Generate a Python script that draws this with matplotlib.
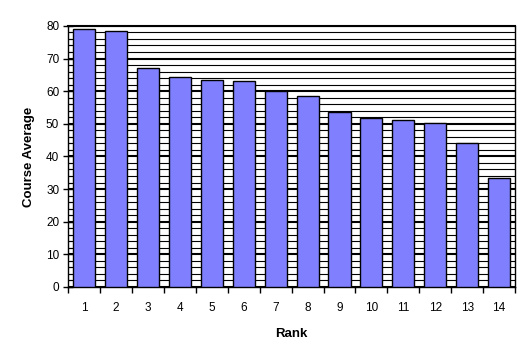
import matplotlib
matplotlib.use('Agg')
import matplotlib.pyplot as plt
import numpy as np

ranks = [str(i) for i in range(1, 15)]
averages = [79.0, 78.4, 67.0, 64.3, 63.4, 63.0, 60.0, 58.4, 53.7, 51.9, 51.1, 50.2, 44.0, 33.3]

plt.rcParams['font.family'] = ['Liberation Sans', 'DejaVu Sans']

fig = plt.figure(figsize=(5.25, 3.6), dpi=100)
ax = fig.add_axes([0.130, 0.203, 0.851, 0.725])

x = np.arange(len(ranks))
ax.bar(x, averages, width=0.69, color='#8080FF', edgecolor='black', linewidth=1.0, zorder=3)

ax.set_xlim(-0.5, len(ranks) - 0.5)
ax.set_ylim(0, 80)

ax.set_yticks(np.arange(0, 81, 10))
ax.set_yticks(np.arange(0, 81, 2), minor=True)
ax.grid(which='major', axis='y', color='black', linewidth=1.5, zorder=1)
ax.grid(which='minor', axis='y', color='black', linewidth=0.8, zorder=1)

ax.set_xticks(np.arange(-0.5, len(ranks), 1.0))
ax.set_xticklabels([])
ax.set_xticks(x, minor=True)
ax.set_xticklabels(ranks, minor=True)
ax.tick_params(axis='x', which='major', direction='out', length=4, width=1)
ax.tick_params(axis='x', which='minor', length=0, labelsize=8.5, pad=11)
ax.tick_params(axis='y', which='major', direction='inout', length=7, width=1, labelsize=8.5, pad=3)
ax.tick_params(axis='y', which='minor', direction='in', length=3, width=0.8)

for s in ['left', 'bottom', 'right']:
    ax.spines[s].set_linewidth(1.0)
ax.spines['top'].set_linewidth(1.5)

ax.set_xlabel('Rank', fontsize=9.5, fontweight='bold', labelpad=10)
ax.set_ylabel('Course Average', fontsize=9.5, fontweight='bold', labelpad=8)

fig.savefig('out.png', dpi=100)
